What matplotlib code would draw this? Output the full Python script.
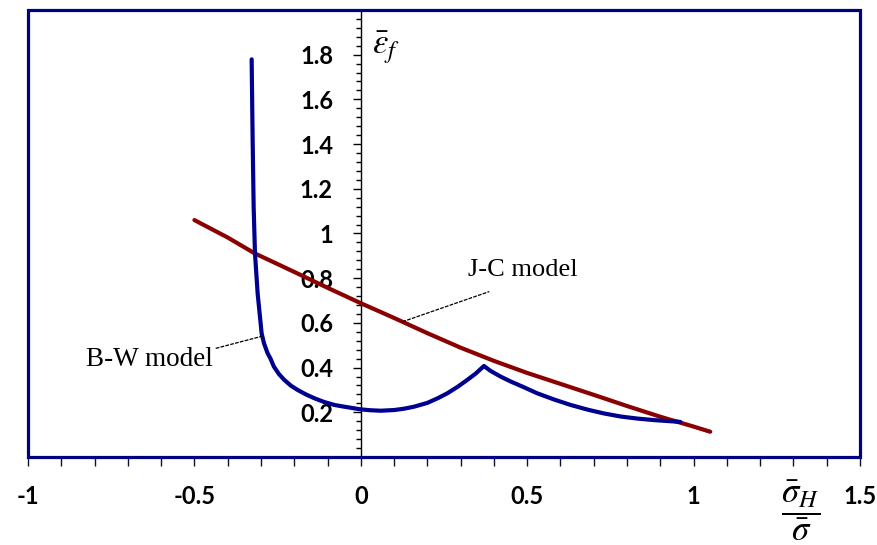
import matplotlib
matplotlib.use("Agg")
import matplotlib.pyplot as plt
from matplotlib.patches import Rectangle
import numpy as np

plt.rcParams['axes.unicode_minus'] = False
plt.rcParams['mathtext.fontset'] = 'stix'

# - DATA -
# B-W model (blue)
bw_x = [-0.328, -0.325, -0.322, -0.318, -0.310, -0.303, -0.298, -0.291, -0.280,
        -0.272, -0.261, -0.246, -0.230, -0.210, -0.190, -0.165, -0.140, -0.110,
        -0.080, -0.050, 0.0, 0.030, 0.060, 0.100, 0.130, 0.160, 0.200, 0.230,
        0.260, 0.290, 0.320, 0.345, 0.370, 0.390, 0.421, 0.450, 0.490, 0.530,
        0.581, 0.630, 0.681, 0.730, 0.781, 0.830, 0.881, 0.920, 0.960]
bw_y = [1.779, 1.418, 1.120, 0.911, 0.732, 0.628, 0.553, 0.509, 0.464,
        0.442, 0.404, 0.371, 0.345, 0.319, 0.300, 0.280, 0.263, 0.246,
        0.233, 0.225, 0.213, 0.209, 0.207, 0.210, 0.216, 0.225, 0.242, 0.262,
        0.285, 0.313, 0.345, 0.373, 0.407, 0.385, 0.359, 0.338, 0.312, 0.285,
        0.257, 0.233, 0.212, 0.195, 0.181, 0.172, 0.165, 0.161, 0.157]

# J-C model (red)
jc_x = [-0.50, -0.40, -0.32, -0.20, -0.10, 0.0, 0.10, 0.20, 0.30, 0.40, 0.50,
        0.60, 0.70, 0.80, 0.90, 1.00, 1.05]
jc_y = [1.060, 0.982, 0.912, 0.828, 0.757, 0.688, 0.622, 0.554, 0.489, 0.430,
        0.376, 0.327, 0.278, 0.228, 0.180, 0.136, 0.113]

x_ticks = [-1, -0.5, 0, 0.5, 1, 1.5]
x_labels = ['-1', '-0.5', '0', '0.5', '1', '1.5']
y_ticks = [0.2, 0.4, 0.6, 0.8, 1.0, 1.2, 1.4, 1.6, 1.8]
y_labels = ['0.2', '0.4', '0.6', '0.8', '1', '1.2', '1.4', '1.6', '1.8']

navy = '#000080'

fig = plt.figure(figsize=(8.78, 5.45), dpi=100)
ax = fig.add_axes([0.0319, 0.1615, 0.9476, 0.8202])

ax.plot(jc_x, jc_y, color='#8B0000', lw=3.0, solid_capstyle='round',
        solid_joinstyle='round', zorder=3)
ax.plot(bw_x, bw_y, color='#000090', lw=3.0, solid_capstyle='round',
        solid_joinstyle='round', zorder=4)

ax.set_xlim(-1, 1.5)
ax.set_ylim(0, 2.0)

# frame
ax.add_patch(Rectangle((0, 0), 1, 1, transform=ax.transAxes, fill=False,
                       edgecolor=navy, lw=2.3, clip_on=False, zorder=5))
for s in ['top', 'right', 'bottom']:
    ax.spines[s].set_visible(False)
ax.spines['left'].set_position(('data', 0))
ax.spines['left'].set_color('black')
ax.spines['left'].set_linewidth(1.0)

tick_font = dict(family='Lato', weight='bold', size=17)

ax.set_xticks(x_ticks)
ax.set_xticklabels(x_labels, fontdict=tick_font)
ax.set_xticks(np.arange(-1, 1.51, 0.1), minor=True)
ax.tick_params(axis='x', which='both', direction='out', length=6.5, width=1.0,
               color='#101030', pad=14)

ax.set_yticks(y_ticks)
ax.set_yticklabels(y_labels, fontdict=tick_font)
ax.set_yticks(np.arange(0.04, 2.001, 0.04), minor=True)
ax.tick_params(axis='y', which='major', direction='out', length=6, width=1.0, pad=14)
ax.tick_params(axis='y', which='minor', direction='out', length=3.6, width=1.0)

# axis labels
ax.text(0.035, 1.83, r'$\bar{\varepsilon}_f$', fontsize=25, ha='left', va='center')
fig.text(801/878, 1 - 511/545, r'$\dfrac{\bar{\sigma}_H}{\bar{\sigma}}$',
         fontsize=25, ha='center', va='center')

# model labels with leader lines
ax.text(0.3215, 0.837, 'J-C model', family='Liberation Serif', fontsize=19,
        ha='left', va='center')
ax.plot([0.125, 0.386], [0.605, 0.74], color='black', lw=0.9, ls=(0, (3, 1)), zorder=6)
ax.text(-0.826, 0.434, 'B-W model', family='Liberation Serif', fontsize=19.5,
        ha='left', va='center')
ax.plot([-0.436, -0.295], [0.486, 0.541], color='black', lw=0.9, ls=(0, (3, 1)), zorder=6)

fig.savefig('out.png', dpi=100)
